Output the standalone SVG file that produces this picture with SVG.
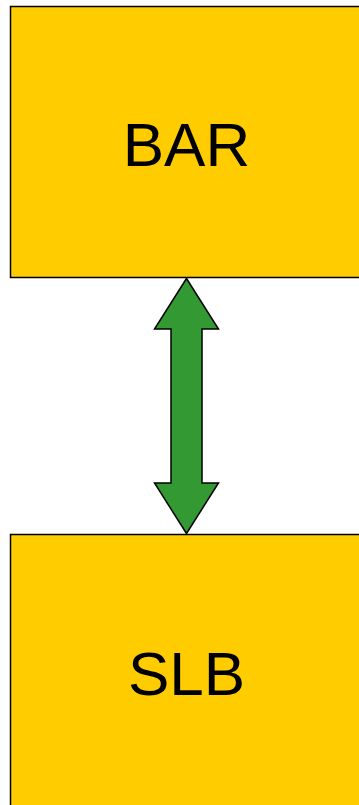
<svg xmlns="http://www.w3.org/2000/svg" width="359" height="805" viewBox="0 0 359 805">
<style>
.box{fill:#FFCC00;stroke:#000;stroke-width:1.5}
.lbl{font-family:"Liberation Sans",Arial,sans-serif;font-size:62px;fill:#000;text-anchor:middle}
.arr{fill:#339933;stroke:#000;stroke-width:1.5;stroke-linejoin:miter}
</style>
<rect width="359" height="805" fill="#fff"/>
<g id="bar">
<rect class="box" x="10.5" y="6.5" width="360" height="271"/>
<text class="lbl" x="186.5" y="166">BAR</text>
</g>
<g id="slb">
<rect class="box" x="10.5" y="534.5" width="360" height="290"/>
<text class="lbl" x="186.5" y="695">SLB</text>
</g>
<g id="connectors">
<polygon class="arr" points="186.5,278.5 218.5,329 202,329 202,483 218.5,483 186.5,533.5 154.5,483 171,483 171,329 154.5,329"/>
</g>
</svg>
